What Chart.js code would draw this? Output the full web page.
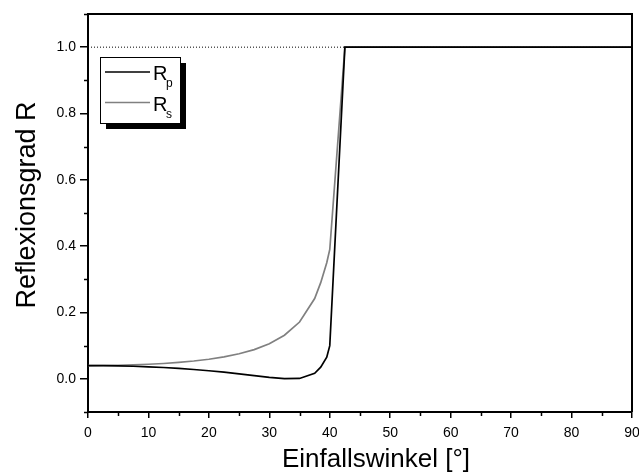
<!DOCTYPE html>
<html><head><meta charset="utf-8">
<script src="https://cdn.jsdelivr.net/npm/chart.js@4/dist/chart.umd.min.js"></script>
<style>html,body{margin:0;padding:0;background:#fff;overflow:hidden}#c{display:block}</style>
</head><body>
<div style="width:639px;height:472px"><canvas id="c" width="639" height="472"></canvas></div>
<script>
const angles = [0,2.5,5,7.5,10,12.5,15,17.5,20,22.5,25,27.5,30,32.5,35,37.5,38.5,39.5,40,42.5,45,47.5,50,52.5,55,57.5,60,62.5,65,67.5,70,72.5,75,77.5,80,82.5,85,87.5,90];
const rp = [0.040,0.0398,0.0391,0.0379,0.0363,0.0341,0.0315,0.0282,0.0244,0.0200,0.0151,0.0098,0.0046,0.0007,0.0012,0.0168,0.035,0.065,0.100,1,1,1,1,1,1,1,1,1,1,1,1,1,1,1,1,1,1,1,1];
const rs = [0.040,0.0402,0.0409,0.0421,0.0439,0.0463,0.0495,0.0537,0.0590,0.0661,0.0755,0.0882,0.1058,0.1314,0.1712,0.2420,0.290,0.350,0.390,1,1,1,1,1,1,1,1,1,1,1,1,1,1,1,1,1,1,1,1];
const refLine = [{x:0,y:1},{x:90,y:1}];
const yTickValues = [0,0.2,0.4,0.6,0.8,1.0];
const xTitle = 'Einfallswinkel [°]';
const yTitle = 'Reflexionsgrad R';
const legendItems = [{label:'R', sub:'p', color:'#000000'},{label:'R', sub:'s', color:'#808080'}];

const FONT = '"Liberation Sans", Arial, sans-serif';

const framePlugin = {
  id:'frame',
  afterDraw(chart){
    const {ctx, chartArea:a, scales} = chart;
    ctx.save();
    // minor ticks
    ctx.strokeStyle='#000'; ctx.lineWidth=1.5;
    const ys = scales.y, xs = scales.x;
    for (let v=-0.1; v<=1.1001; v+=0.2){
      const p = Math.round(ys.getPixelForValue(v))+0.5;
      ctx.beginPath(); ctx.moveTo(a.left-4,p); ctx.lineTo(a.left,p); ctx.stroke();
    }
    for (let v=5; v<90; v+=10){
      const p = Math.round(xs.getPixelForValue(v))+0.5;
      ctx.beginPath(); ctx.moveTo(p,a.bottom); ctx.lineTo(p,a.bottom+4); ctx.stroke();
    }
    // frame
    ctx.lineWidth=2;
    ctx.beginPath();
    ctx.moveTo(a.left,a.top); ctx.lineTo(a.right,a.top); ctx.lineTo(a.right,a.bottom);
    ctx.stroke();
    // axis titles
    ctx.fillStyle='#000';
    ctx.textAlign='center'; ctx.textBaseline='alphabetic';
    ctx.font='26px '+FONT;
    ctx.fillText(xTitle, 376, 467);
    ctx.save();
    ctx.translate(35, 205);
    ctx.rotate(-Math.PI/2);
    ctx.font='27px '+FONT;
    ctx.fillText(yTitle, 0, 0);
    ctx.restore();
    // legend
    const lx=100, ly=57, lw=80, lh=66;
    ctx.fillStyle='#000';
    ctx.fillRect(lx+6, ly+6, lw, lh);
    ctx.fillStyle='#fff';
    ctx.fillRect(lx, ly, lw, lh);
    ctx.lineWidth=1; ctx.strokeStyle='#000';
    ctx.strokeRect(lx+0.5, ly+0.5, lw, lh);
    legendItems.forEach((it,i)=>{
      const yy = 72 + i*30.5;
      ctx.strokeStyle=it.color; ctx.lineWidth=1.5;
      ctx.beginPath(); ctx.moveTo(105,yy); ctx.lineTo(150,yy); ctx.stroke();
      ctx.fillStyle='#000';
      ctx.font='20px '+FONT; ctx.textBaseline='alphabetic'; ctx.textAlign='left';
      ctx.fillText(it.label, 153, yy+8);
      ctx.font='12px '+FONT;
      ctx.fillText(it.sub, 166, yy+15);
    });
    ctx.restore();
  }
};

new Chart(document.getElementById('c'), {
  type:'line',
  data:{
    datasets:[
      {data: angles.map((a,i)=>({x:a,y:rp[i]})), borderColor:'#000', borderWidth:1.7, pointRadius:0, tension:0, order:1},
      {data: angles.map((a,i)=>({x:a,y:rs[i]})), borderColor:'#808080', borderWidth:1.7, pointRadius:0, tension:0, order:2},
      {data: refLine, borderColor:'#000', borderWidth:1, borderDash:[1,2], pointRadius:0, order:3}
    ]
  },
  options:{
    responsive:false, animation:false,
    layout:{padding:{left:0,right:7,top:14,bottom:0}},
    plugins:{legend:{display:false}, tooltip:{enabled:false}},
    scales:{
      x:{type:'linear', min:0, max:90,
        ticks:{stepSize:10, color:'#000', font:{family:FONT,size:14}, padding:7, maxRotation:0},
        grid:{drawOnChartArea:false, drawTicks:true, tickLength:6, color:'#000', lineWidth:1.5},
        border:{color:'#000', width:2},
        title:{display:false, text:xTitle},
        afterFit(s){ s.height=60; s.paddingRight=0; s.paddingLeft=0; }
      },
      y:{type:'linear', min:-0.1, max:1.1,
        afterBuildTicks(s){ s.ticks=yTickValues.map(v=>({value:v})); },
        ticks:{color:'#000', font:{family:FONT,size:14}, padding:4, callback:v=>v.toFixed(1)},
        grid:{drawOnChartArea:false, drawTicks:true, tickLength:8, color:'#000', lineWidth:1.5},
        border:{color:'#000', width:2},
        title:{display:false, text:yTitle},
        afterFit(s){ s.width=88; s.paddingTop=0; s.paddingBottom=0; }
      }
    }
  },
  plugins:[framePlugin]
});
</script>
</body></html>
